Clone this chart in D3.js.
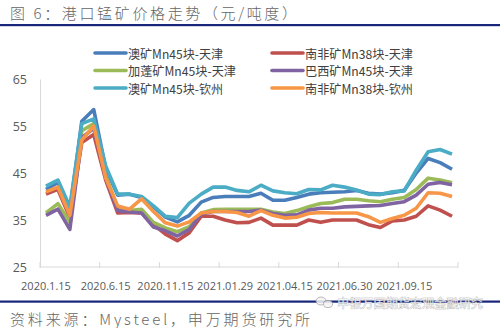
<!DOCTYPE html>
<html><head><meta charset="utf-8">
<script src="https://cdn.jsdelivr.net/npm/d3@7/dist/d3.min.js"></script>
<style>
html,body{margin:0;padding:0;background:#fff;}
svg{display:block;}
</style></head><body>
<svg id="chart" width="500" height="328"></svg>
<script>
// Port manganese ore prices (yuan / dry metric ton unit)
const tickLabels = ["2020.1.15","2020.6.15","2020.11.15","2021.01.29","2021.04.15","2021.06.30","2021.09.15"];
const labelEvery = 5;
const yTicks = [25, 35, 45, 55, 65];

const seriesNames = ["澳矿Mn45块-天津","南非矿Mn38块-天津","加蓬矿Mn45块-天津","巴西矿Mn45块-天津","澳矿Mn45块-钦州","南非矿Mn38块-钦州"];
const seriesColors = ["#4A7EBB","#C0504D","#9BBB59","#8064A2","#4BACC6","#F79646"];

const ausTianjin = [41.5,43,37,56,58.5,46,40.3,40.5,39.8,37.8,35.6,34.6,36,38.8,39.8,40,40,40,40.7,39.2,39.2,39.8,40.5,40.8,40.9,41,41.3,40.7,40.5,40.8,41.3,45,48.1,47.2,45.8];
const safTianjin = [40.5,41.5,35.5,51.5,53.2,43.5,36.5,36.6,36.5,34,32,30.6,32.3,35.8,35.8,35,34.4,34.5,35.4,33.9,33.9,33.9,35,34.5,35,35,35,34,33.4,34.8,35,35.8,38,37.1,35.8];
const gabTianjin = [36.5,38.5,34.5,54,55.5,44.5,37.5,37,37.3,34.5,33.3,32.5,33.6,36.5,37.2,37.3,37.3,37.3,37.3,36.7,36.4,37,37.8,38.5,38.7,39.4,39.4,39.1,38.9,39.4,39.8,41.5,43.9,43.5,42.9];
const braTianjin = [36,37.3,33,52.5,54.5,44,37,36.7,36.5,33.5,32.7,31.6,33,36.3,36.8,36.8,36.8,36.8,37.1,36.4,36,36.1,37.1,37.5,37.5,37.8,37.9,38,38.1,38.5,38.9,40.3,42.6,43,42.5];
const ausQinzhou = [42.2,43.5,37.8,55.5,56.5,46.5,40.5,40.5,40,38,35.8,35.5,38.6,40.5,42,42,41.3,41,42.4,41.2,40.8,40.6,41.5,41.4,42.4,42,41.4,40.5,40.4,41,41.2,45.6,49.5,50,49];
const safQinzhou = [41,42,36,52,55,44,38,37.3,39.5,36.8,34.4,33.7,34.6,36.5,36.8,36.8,36.6,35.8,37,36,35.4,35.6,36.4,36.6,36.5,36.5,36.5,35.7,34.5,35.3,36,37.5,40.8,40.7,40];

const seriesValues = [ausTianjin, safTianjin, gabTianjin, braTianjin, ausQinzhou, safQinzhou];

const cjk = "'Noto Sans CJK SC', 'Noto Sans', sans-serif";
const latin = "'Open Sans', 'Noto Sans', sans-serif";
const navy = "#17257A";

const svg = d3.select("#chart");

// Title and rule
svg.append("text")
  .attr("x", 10).attr("y", 12)
  .attr("dominant-baseline", "central")
  .attr("font-family", cjk).attr("font-size", 15).attr("font-weight", 300)
  .attr("fill", "#666666")
  .attr("textLength", 287).attr("lengthAdjust", "spacing")
  .text("图 6：港口锰矿价格走势（元/吨度）");
svg.append("rect").attr("x", 0).attr("y", 24).attr("width", 500).attr("height", 2.2).attr("fill", navy);

// Scales
const n = ausTianjin.length;
const x = d3.scaleBand().domain(d3.range(n)).range([40, 458]);
const cx = i => x(i) + x.bandwidth() / 2;
const y = d3.scaleLinear().domain([25, 65]).range([267, 79]);

// Value axis
const gy = svg.append("g").attr("transform", "translate(40,0)")
  .call(d3.axisLeft(y).tickValues(yTicks).tickSize(0).tickPadding(13).tickFormat(d3.format("d")));
gy.select(".domain").attr("stroke", "#d9d9d9").attr("stroke-width", 1);
gy.selectAll("text").attr("font-family", latin).attr("font-size", 12.5).attr("fill", "#595959");

// Category axis
const boundaries = d3.range(0, n + 1, labelEvery).concat(n % labelEvery ? [n] : []);
const gx = svg.append("g");
gx.append("line").attr("x1", 40).attr("x2", 458).attr("y1", 267).attr("y2", 267)
  .attr("stroke", "#d9d9d9").attr("stroke-width", 1);
gx.selectAll("line.tick").data(boundaries).join("line")
  .attr("class", "tick")
  .attr("x1", i => i < n ? x(i) : 458).attr("x2", i => i < n ? x(i) : 458)
  .attr("y1", 262).attr("y2", 268)
  .attr("stroke", "#d9d9d9").attr("stroke-width", 1);
gx.selectAll("text").data(tickLabels).join("text")
  .attr("x", (d, k) => cx(k * labelEvery))
  .attr("y", 285)
  .attr("text-anchor", "middle").attr("dominant-baseline", "central")
  .attr("font-family", latin).attr("font-size", 11).attr("fill", "#595959")
  .text(d => d);

// Series lines
const line = d3.line().x((d, i) => cx(i)).y(d => y(d));
svg.append("g").selectAll("path").data(seriesValues).join("path")
  .attr("d", d => line(d))
  .attr("fill", "none")
  .attr("stroke", (d, k) => seriesColors[k])
  .attr("stroke-width", 3.6)
  .attr("stroke-linejoin", "round");

// Legend: two columns, three rows
const legend = svg.append("g");
const legendItems = legend.selectAll("g").data(seriesNames).join("g")
  .attr("transform", (d, k) => `translate(${k % 2 ? 272 : 95},${53 + Math.floor(k / 2) * 17.5})`);
legendItems.append("line")
  .attr("x1", 0).attr("x2", 31).attr("y1", 0).attr("y2", 0)
  .attr("stroke", (d, k) => seriesColors[k]).attr("stroke-width", 3.6).attr("stroke-linecap", "round");
legendItems.append("text")
  .attr("x", 33).attr("y", 0).attr("dominant-baseline", "central")
  .attr("font-family", cjk).attr("font-size", 12.5).attr("fill", "#404040")
  .attr("textLength", d => d.startsWith("澳") ? 95 : 108).attr("lengthAdjust", "spacingAndGlyphs")
  .text(d => d);

// Footer rule and source note
svg.append("rect").attr("x", 0).attr("y", 300.5).attr("width", 500).attr("height", 2.2).attr("fill", navy);
svg.append("text")
  .attr("x", 10).attr("y", 318)
  .attr("dominant-baseline", "central")
  .attr("font-family", cjk).attr("font-size", 15).attr("font-weight", 300)
  .attr("fill", "#666666")
  .attr("textLength", 300).attr("lengthAdjust", "spacing")
  .text("资料来源：Mysteel，申万期货研究所");

// Account mark over the footer rule
const mark = svg.append("g").attr("opacity", 0.85);
mark.append("ellipse").attr("cx", 321).attr("cy", 301).attr("rx", 5).attr("ry", 4)
  .attr("fill", "#f4f4f4").attr("stroke", "#9a9a9a").attr("stroke-width", 0.8);
mark.append("ellipse").attr("cx", 328).attr("cy", 304).attr("rx", 4.5).attr("ry", 3.6)
  .attr("fill", "#f4f4f4").attr("stroke", "#9a9a9a").attr("stroke-width", 0.8);
mark.append("text")
  .attr("x", 337).attr("y", 302)
  .attr("dominant-baseline", "central")
  .attr("font-family", cjk).attr("font-size", 12)
  .attr("fill", "#f2f2f2").attr("stroke", "#9a9a9a").attr("stroke-width", 0.6)
  .attr("paint-order", "stroke")
  .attr("textLength", 146).attr("lengthAdjust", "spacingAndGlyphs")
  .text("申银万国期货宏观金融研究");
</script>
</body></html>
